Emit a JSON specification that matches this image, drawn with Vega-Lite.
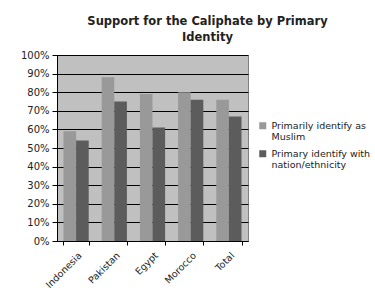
{
  "$schema": "https://vega.github.io/schema/vega-lite/v6.json",
  "width": 191,
  "height": 186,
  "autosize": {"type": "none"},
  "padding": {"left": 57, "top": 55, "right": 127, "bottom": 56},
  "background": "white",
  "title": {
    "text": ["Support for the Caliphate by Primary", "Identity"],
    "font": "DejaVu Sans",
    "fontSize": 11.5,
    "fontWeight": "bold",
    "color": "#222222",
    "anchor": "middle",
    "dx": 55,
    "offset": 7,
    "lineHeight": 15.5
  },
  "data": {
    "values": [
      {"country": "Indonesia", "identity": "Primarily identify as Muslim", "value": 0.59},
      {"country": "Indonesia", "identity": "Primary identify with nation/ethnicity", "value": 0.54},
      {"country": "Pakistan", "identity": "Primarily identify as Muslim", "value": 0.88},
      {"country": "Pakistan", "identity": "Primary identify with nation/ethnicity", "value": 0.75},
      {"country": "Egypt", "identity": "Primarily identify as Muslim", "value": 0.79},
      {"country": "Egypt", "identity": "Primary identify with nation/ethnicity", "value": 0.61},
      {"country": "Morocco", "identity": "Primarily identify as Muslim", "value": 0.80},
      {"country": "Morocco", "identity": "Primary identify with nation/ethnicity", "value": 0.76},
      {"country": "Total", "identity": "Primarily identify as Muslim", "value": 0.76},
      {"country": "Total", "identity": "Primary identify with nation/ethnicity", "value": 0.67}
    ]
  },
  "mark": {"type": "bar"},
  "encoding": {
    "x": {
      "field": "country",
      "type": "nominal",
      "sort": null,
      "scale": {"paddingInner": 0.34, "paddingOuter": 0.17},
      "axis": {
        "title": null,
        "labelAngle": -45,
        "labelFont": "DejaVu Sans",
        "labelFontSize": 9.5,
        "labelColor": "#222222",
        "domainColor": "#000000",
        "tickColor": "#000000",
        "tickBand": "extent",
        "tickSize": 4,
        "labelPadding": 5
      }
    },
    "xOffset": {"field": "identity", "type": "nominal", "scale": {"paddingInner": 0}},
    "y": {
      "field": "value",
      "type": "quantitative",
      "scale": {"domain": [0, 1]},
      "axis": {
        "title": null,
        "format": ".0%",
        "values": [0, 0.1, 0.2, 0.3, 0.4, 0.5, 0.6, 0.7, 0.8, 0.9, 1],
        "labelOverlap": false,
        "labelFont": "DejaVu Sans",
        "labelFontSize": 10,
        "labelColor": "#222222",
        "domainColor": "#000000",
        "tickColor": "#000000",
        "gridColor": "#000000",
        "gridOpacity": 1,
        "gridWidth": 1,
        "tickSize": 5,
        "labelPadding": 3
      }
    },
    "color": {
      "field": "identity",
      "type": "nominal",
      "scale": {"range": ["#999999", "#5c5c5c"]},
      "legend": {
        "title": null,
        "orient": "none",
        "legendX": 201,
        "legendY": 66,
        "symbolType": "square",
        "symbolSize": 49,
        "symbolStrokeWidth": 0,
        "labelFont": "DejaVu Sans",
        "labelFontSize": 9.5,
        "labelColor": "#222222",
        "labelLimit": 200,
        "rowPadding": 6,
        "labelExpr": "datum.label == 'Primarily identify as Muslim' ? [' Primarily identify as', 'Muslim'] : ['Primary identify with', 'nation/ethnicity']"
      }
    }
  },
  "config": {
    "view": {"fill": "#c0c0c0", "stroke": "#808080", "strokeWidth": 1}
  }
}
